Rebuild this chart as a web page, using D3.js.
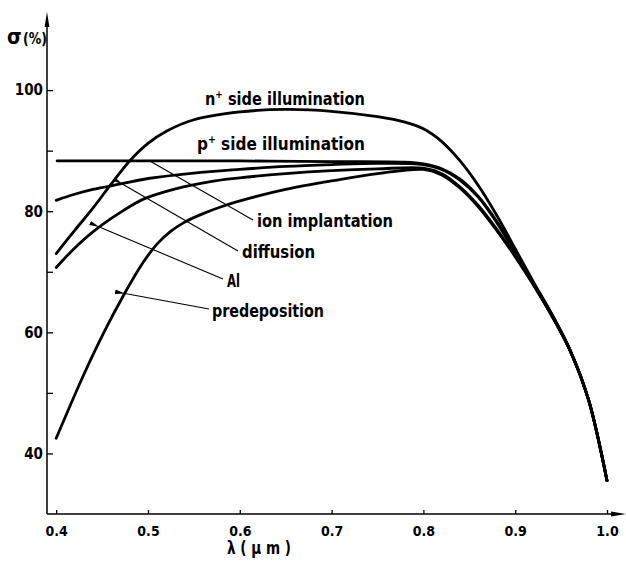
<!DOCTYPE html>
<html>
<head>
<meta charset="utf-8">
<script src="https://cdn.jsdelivr.net/npm/d3@7"></script>
<style>
  body { margin: 0; background: #fff; }
  svg { display: block; }
  text { font-family: "DejaVu Sans Condensed", "Liberation Sans Narrow", sans-serif; font-weight: bold; fill: #000; }
</style>
</head>
<body>
<svg id="chart" width="626" height="563"></svg>
<script>
// wavelength (um) / collection efficiency sigma (%)
const nSide = [[0.4, 73], [0.42, 76.8], [0.44, 80.5], [0.46, 84.5], [0.48, 88.3], [0.5, 91.2], [0.52, 93.2],
  [0.55, 95.1], [0.6, 96.4], [0.65, 96.8], [0.7, 96.5], [0.75, 95.6], [0.78, 94.7], [0.8, 93.6], [0.82, 91.5],
  [0.84, 88.3], [0.86, 84.2], [0.88, 79.3], [0.9, 73.8], [0.92, 68.3], [0.94, 63], [0.96, 57], [0.98, 48.8], [1.0, 35.5]]
const ionImpl = [[0.401, 88.3], [0.5, 88.3], [0.6, 88.3], [0.7, 88.2], [0.78, 88.1], [0.8, 87.8], [0.82, 87],
  [0.84, 85.3], [0.86, 82.4], [0.88, 78.3], [0.9, 73.3], [0.92, 68.1], [0.94, 62.9], [0.96, 57], [0.98, 48.8], [1.0, 35.5]]
const diffusion = [[0.4, 81.8], [0.42, 82.8], [0.44, 83.6], [0.47, 84.5], [0.5, 85.4], [0.55, 86.3], [0.6, 86.9],
  [0.65, 87.4], [0.7, 87.7], [0.75, 87.9], [0.8, 87.7], [0.82, 86.9], [0.84, 85.1], [0.86, 82.3], [0.88, 78.1],
  [0.9, 73.1], [0.92, 68], [0.94, 62.8], [0.96, 57], [0.98, 48.8], [1.0, 35.5]]
const aluminium = [[0.4, 70.7], [0.42, 73.9], [0.44, 76.6], [0.47, 79.8], [0.495, 82], [0.53, 83.7], [0.568, 84.9],
  [0.6, 85.5], [0.65, 86.2], [0.7, 86.7], [0.75, 87], [0.8, 87.1], [0.82, 86.2], [0.84, 84], [0.86, 80.9],
  [0.88, 77], [0.9, 72.6], [0.92, 67.8], [0.94, 62.7], [0.96, 56.9], [0.98, 48.8], [1.0, 35.5]]
const predep = [[0.4, 42.5], [0.43, 53], [0.452, 60], [0.473, 66], [0.495, 71.6], [0.51, 74.6], [0.525, 76.7],
  [0.54, 78.2], [0.56, 79.6], [0.583, 80.9], [0.612, 82.2], [0.65, 83.6], [0.7, 85], [0.75, 86.2], [0.8, 86.9],
  [0.82, 86], [0.84, 83.8], [0.86, 80.7], [0.88, 76.8], [0.9, 72.5], [0.92, 67.8], [0.94, 62.7], [0.96, 56.9],
  [0.98, 48.8], [1.0, 35.5]]

const xTicks = [0.4, 0.5, 0.6, 0.7, 0.8, 0.9, 1.0]
const yTicks = [40, 50, 60, 70, 80, 90, 100]
const yLabelled = [40, 60, 80, 100]

// callouts: label, point on the curve (lambda, sigma)
const callouts = [
  { name: 'ion implantation', at: [0.502, 88.3] },
  { name: 'diffusion', at: [0.472, 84.5] },
  { name: 'Al', at: [0.447, 77.4] },
  { name: 'predeposition', at: [0.475, 66.4] }
]

const svg = d3.select('#chart')
const x = d3.scaleLinear().domain([0.39, 1.0]).range([47, 607])
const y = d3.scaleLinear().domain([30, 112.4]).range([514, 15])

svg.append('defs').append('marker')
  .attr('id', 'tip')
  .attr('viewBox', '0 0 10 6')
  .attr('refX', 0).attr('refY', 3)
  .attr('markerWidth', 10).attr('markerHeight', 6)
  .attr('markerUnits', 'userSpaceOnUse')
  .attr('orient', 'auto-start-reverse')
  .append('path').attr('d', 'M0,3L10,0.8L10,5.2Z')

// axes
svg.append('g')
  .attr('transform', 'translate(' + x(0.39) + ',0)')
  .call(d3.axisLeft(y).tickValues(yTicks).tickSizeInner(-6).tickSizeOuter(0).tickPadding(4)
    .tickFormat(d => yLabelled.includes(d) ? d : ''))
  .call(g => g.select('.domain').remove())
  .call(g => g.selectAll('line').attr('stroke-width', 1.3))
  .call(g => g.selectAll('text').attr('font-size', 15).attr('font-family', null))

svg.append('g')
  .attr('transform', 'translate(0,' + y(30) + ')')
  .call(d3.axisBottom(x).tickValues(xTicks).tickSizeInner(-4).tickSizeOuter(0).tickPadding(12)
    .tickFormat(d3.format('.1f')))
  .call(g => g.select('.domain').remove())
  .call(g => g.selectAll('line').attr('stroke-width', 1.3))
  .call(g => g.selectAll('text').attr('font-size', 14).attr('font-family', null))

svg.append('line').attr('x1', 47).attr('x2', 47).attr('y1', y(30)).attr('y2', 24)
  .attr('stroke', '#000').attr('stroke-width', 1.5)
svg.append('path').attr('d', 'M47,12L44.6,27L49.4,27Z').attr('fill', '#000')
svg.append('line').attr('x1', 47).attr('x2', 614).attr('y1', y(30)).attr('y2', y(30))
  .attr('stroke', '#000').attr('stroke-width', 1.5)
svg.append('path').attr('d', 'M626,' + y(30) + 'L611,' + (y(30) - 2.4) + 'L611,' + (y(30) + 2.4) + 'Z').attr('fill', '#000')

svg.append('text').attr('x', 7).attr('y', 44).attr('font-size', 21).text('σ')
svg.append('text').attr('x', 23).attr('y', 44).attr('font-size', 15).attr('textLength', 24)
  .attr('lengthAdjust', 'spacingAndGlyphs').text('(%)')
svg.append('text').attr('x', 259).attr('y', 554).attr('text-anchor', 'middle').attr('font-size', 17)
  .attr('textLength', 64).attr('lengthAdjust', 'spacingAndGlyphs').text('λ ( μ m )')

// curves
const line = d3.line().x(d => x(d[0])).y(d => y(d[1])).curve(d3.curveCatmullRom.alpha(0.5))
svg.append('g').selectAll('path')
  .data([nSide, ionImpl, diffusion, aluminium, predep])
  .join('path')
  .attr('d', line)
  .attr('fill', 'none')
  .attr('stroke', '#000')
  .attr('stroke-width', 2.8)
  .attr('stroke-linecap', 'round')

// curve titles
const title = (label, x0, base, w) => {
  const t = svg.append('text').attr('x', x0).attr('y', base).attr('font-size', 18)
    .attr('textLength', w).attr('lengthAdjust', 'spacingAndGlyphs')
  t.append('tspan').text(label[0])
  t.append('tspan').attr('dy', -7).attr('font-size', 11).text('+')
  t.append('tspan').attr('dy', 7).text(label.slice(1))
}
title('n side illumination', 205, 105, 160)
title('p  side  illumination', 197, 150, 168)

// callout labels and leader lines
const labelPos = [
  { tx: 257, ty: 227, w: 136, lx: 253, ly: 220 },
  { tx: 242, ty: 258, w: 73, lx: 238, ly: 251 },
  { tx: 227, ty: 287, w: 13, lx: 223, ly: 279 },
  { tx: 212, ty: 317, w: 112, lx: 209, ly: 309 }
]
callouts.forEach((c, i) => {
  const p = labelPos[i]
  svg.append('line')
    .attr('x1', p.lx).attr('y1', p.ly)
    .attr('x2', x(c.at[0])).attr('y2', y(c.at[1]))
    .attr('stroke', '#000').attr('stroke-width', 1.1)
    .attr('marker-end', i === 0 ? null : 'url(#tip)')
  svg.append('text').attr('x', p.tx).attr('y', p.ty).attr('font-size', 18)
    .attr('textLength', p.w).attr('lengthAdjust', 'spacingAndGlyphs').text(c.name)
})
</script>
</body>
</html>
